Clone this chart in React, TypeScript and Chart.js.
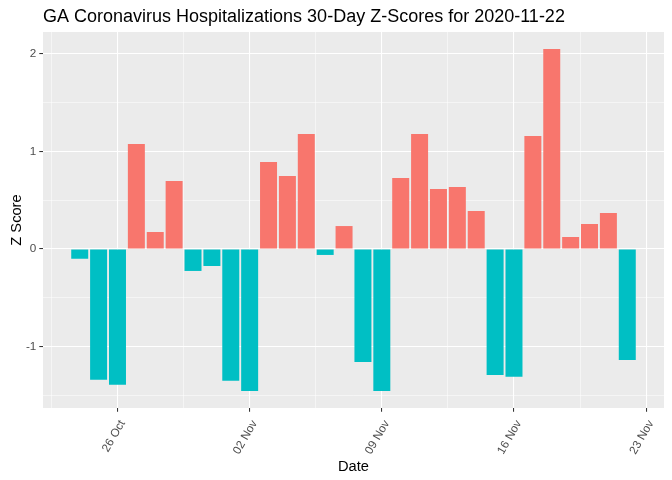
import React, { useEffect, useRef } from 'react';
import { Chart, registerables } from 'chart.js';

Chart.register(...registerables);

const dates = [
  '2020-10-24', '2020-10-25', '2020-10-26', '2020-10-27', '2020-10-28', '2020-10-29',
  '2020-10-30', '2020-10-31', '2020-11-01', '2020-11-02', '2020-11-03', '2020-11-04',
  '2020-11-05', '2020-11-06', '2020-11-07', '2020-11-08', '2020-11-09', '2020-11-10',
  '2020-11-11', '2020-11-12', '2020-11-13', '2020-11-14', '2020-11-15', '2020-11-16',
  '2020-11-17', '2020-11-18', '2020-11-19', '2020-11-20', '2020-11-21', '2020-11-22',
];

const zScores = [
  -0.10, -1.34, -1.39, 1.075, 0.174, 0.696,
  -0.225, -0.174, -1.35, -1.454, 0.89, 0.747,
  1.177, -0.061, 0.235, -1.157, -1.454, 0.727,
  1.177, 0.614, 0.635, 0.389, -1.29, -1.31,
  1.157, 2.048, 0.123, 0.256, 0.369, -1.137,
];

const xTickDates = ['2020-10-26', '2020-11-02', '2020-11-09', '2020-11-16', '2020-11-23'];
const xTickLabels = ['26 Oct', '02 Nov', '09 Nov', '16 Nov', '23 Nov'];
const yTickValues = [-1, 0, 1, 2];
const yTickLabels = ['-1', '0', '1', '2'];

const TITLE = 'GA Coronavirus Hospitalizations 30-Day Z-Scores for 2020-11-22';
const X_TITLE = 'Date';
const Y_TITLE = 'Z Score';

const FONT = '"Liberation Sans", Arial, sans-serif';
const POS_COLOR = '#F8766D';
const NEG_COLOR = '#00BFC4';

const DAY = 86400000;
const t0 = Date.parse(dates[0] + 'T00:00:00Z');
const dayIndex = (d: string) => Math.round((Date.parse(d + 'T00:00:00Z') - t0) / DAY);

export default function App() {
  const canvasRef = useRef<HTMLCanvasElement | null>(null);

  useEffect(() => {
    if (!canvasRef.current) return;

    const barWidth = 0.9;
    const xs = dates.map(dayIndex);
    const xLo = Math.min(...xs) - barWidth / 2;
    const xHi = Math.max(...xs) + barWidth / 2;
    const xPad = (xHi - xLo) * 0.05;
    const xMin = xLo - xPad;
    const xMax = xHi + xPad;

    const yLo = Math.min(0, ...zScores);
    const yHi = Math.max(0, ...zScores);
    const yPad = (yHi - yLo) * 0.05;
    const yMin = yLo - yPad;
    const yMax = yHi + yPad;

    const xMajor = xTickDates.map(dayIndex);
    const xStep = xMajor[1] - xMajor[0];
    const xAll: number[] = [];
    for (let i = 0; i < xMajor.length; i++) {
      const minorBefore = xMajor[i] - xStep / 2;
      if (minorBefore >= xMin) xAll.push(minorBefore);
      xAll.push(xMajor[i]);
    }
    const lastMinor = xMajor[xMajor.length - 1] + xStep / 2;
    if (lastMinor <= xMax) xAll.push(lastMinor);

    const yAll: number[] = [];
    for (let i = 0; i < yTickValues.length; i++) {
      const minorBefore = yTickValues[i] - 0.5;
      if (minorBefore >= yMin) yAll.push(minorBefore);
      yAll.push(yTickValues[i]);
    }
    const yLastMinor = yTickValues[yTickValues.length - 1] + 0.5;
    if (yLastMinor <= yMax) yAll.push(yLastMinor);

    const isXMajor = (v: number) => xMajor.some((m) => Math.abs(m - v) < 1e-6);
    const isYMajor = (v: number) => yTickValues.some((m) => Math.abs(m - v) < 1e-6);

    const ggPlugin = {
      id: 'ggPanel',
      beforeDraw(chart: any) {
        const { ctx, chartArea } = chart;
        ctx.save();
        ctx.fillStyle = '#EBEBEB';
        ctx.fillRect(chartArea.left, chartArea.top, chartArea.right - chartArea.left, chartArea.bottom - chartArea.top);
        ctx.restore();
      },
      afterDraw(chart: any) {
        const { ctx, chartArea } = chart;
        ctx.save();
        ctx.fillStyle = '#000000';
        ctx.textBaseline = 'alphabetic';
        ctx.font = `18px ${FONT}`;
        ctx.textAlign = 'left';
        ctx.fillText(TITLE, chartArea.left, 22);

        ctx.font = `14.67px ${FONT}`;
        ctx.textAlign = 'center';
        ctx.fillText(X_TITLE, (chartArea.left + chartArea.right) / 2, 471);

        ctx.translate(20.5, (chartArea.top + chartArea.bottom) / 2);
        ctx.rotate(-Math.PI / 2);
        ctx.fillText(Y_TITLE, 0, 0);
        ctx.restore();
      },
    };

    const chart = new Chart(canvasRef.current, {
      type: 'bar',
      data: {
        datasets: [
          {
            data: dates.map((d, i) => ({ x: dayIndex(d), y: zScores[i] })),
            backgroundColor: (ctx: any) => {
              const v = ctx.raw ? ctx.raw.y : 0;
              return v >= 0 ? POS_COLOR : NEG_COLOR;
            },
            borderWidth: 0,
            barPercentage: barWidth,
            categoryPercentage: 1,
          },
        ],
      },
      options: {
        animation: false,
        responsive: true,
        maintainAspectRatio: false,
        devicePixelRatio: 1,
        layout: { padding: { top: 32, right: 8, left: 0, bottom: 0 } },
        plugins: {
          legend: { display: false },
          title: { display: false },
          tooltip: { enabled: false },
        },
        scales: {
          x: {
            type: 'linear',
            min: xMin,
            max: xMax,
            offset: false,
            afterBuildTicks: (scale: any) => {
              scale.ticks = xAll.map((v) => ({ value: v }));
            },
            afterFit: (scale: any) => {
              scale.height = 72;
            },
            border: { display: false },
            grid: {
              offset: false,
              color: '#FFFFFF',
              lineWidth: (ctx: any) => (ctx.tick && isXMajor(ctx.tick.value) ? 1.07 : 0.53),
              drawTicks: true,
              tickLength: 3.7,
              tickWidth: 1.07,
              tickColor: (ctx: any) => (ctx.tick && isXMajor(ctx.tick.value) ? '#333333' : 'rgba(0,0,0,0)'),
            },
            ticks: {
              autoSkip: false,
              minRotation: 60,
              maxRotation: 60,
              padding: 6,
              labelOffset: 5,
              color: '#4D4D4D',
              font: { family: FONT, size: 11.7 },
              callback: (value: any) => {
                const i = xMajor.findIndex((m) => Math.abs(m - Number(value)) < 1e-6);
                return i >= 0 ? xTickLabels[i] : '';
              },
            },
          },
          y: {
            type: 'linear',
            min: yMin,
            max: yMax,
            afterBuildTicks: (scale: any) => {
              scale.ticks = yAll.map((v) => ({ value: v }));
            },
            afterFit: (scale: any) => {
              scale.width = 43;
            },
            border: { display: false },
            grid: {
              color: '#FFFFFF',
              lineWidth: (ctx: any) => (ctx.tick && isYMajor(ctx.tick.value) ? 1.07 : 0.53),
              drawTicks: true,
              tickLength: 3.7,
              tickWidth: 1.07,
              tickColor: (ctx: any) => (ctx.tick && isYMajor(ctx.tick.value) ? '#333333' : 'rgba(0,0,0,0)'),
            },
            ticks: {
              autoSkip: false,
              padding: 3,
              color: '#4D4D4D',
              font: { family: FONT, size: 11.7 },
              callback: (value: any) => {
                const i = yTickValues.findIndex((m) => Math.abs(m - Number(value)) < 1e-6);
                return i >= 0 ? yTickLabels[i] : '';
              },
            },
          },
        },
      },
      plugins: [ggPlugin],
    } as any);

    return () => {
      chart.destroy();
    };
  }, []);

  return (
    <div style={{ position: 'absolute', left: 0, top: 0, width: 672, height: 480, background: '#FFFFFF' }}>
      <canvas ref={canvasRef} />
    </div>
  );
}
